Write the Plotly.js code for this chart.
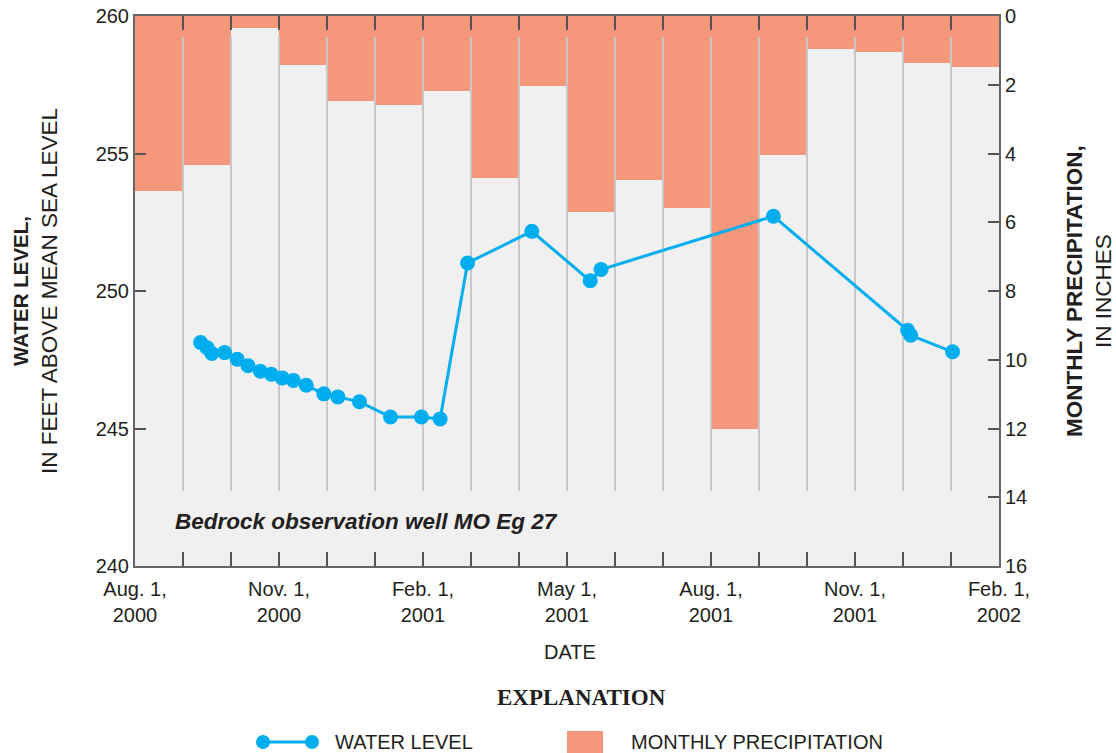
<!DOCTYPE html>
<html>
<head>
<meta charset="utf-8">
<script src="https://cdn.plot.ly/plotly-3.0.1.min.js"></script>
<style>html,body{margin:0;padding:0;background:#fff;}#chart{width:1116px;height:753px;}</style>
</head>
<body>
<div id="chart"></div>
<script>
// ---- data ----
var months = ['Aug 2000','Sep 2000','Oct 2000','Nov 2000','Dec 2000','Jan 2001','Feb 2001','Mar 2001','Apr 2001',
              'May 2001','Jun 2001','Jul 2001','Aug 2001','Sep 2001','Oct 2001','Nov 2001','Dec 2001','Jan 2002'];
var precipInches = [5.08, 4.33, 0.35, 1.43, 2.47, 2.60, 2.19, 4.71, 2.04, 5.71, 4.78, 5.58, 12.02, 4.04, 0.96, 1.04, 1.36, 1.47];

var levelDates = ['2000-09-12','2000-09-16','2000-09-19','2000-09-27','2000-10-05','2000-10-12','2000-10-20','2000-10-27',
                  '2000-11-03','2000-11-10','2000-11-18','2000-11-29','2000-12-08','2000-12-22','2001-01-11','2001-01-31',
                  '2001-02-11','2001-02-27','2001-04-09','2001-05-16','2001-05-23','2001-09-10','2001-12-04','2001-12-06',
                  '2002-01-02'];
var levelFeet = [248.13, 247.94, 247.73, 247.76, 247.52, 247.28, 247.08, 246.97, 246.84, 246.75, 246.57, 246.26,
                 246.15, 245.97, 245.42, 245.42, 245.35, 251.02, 252.17, 250.37, 250.78, 252.72, 248.57, 248.39, 247.79];

var tickLabels = ['Aug. 1,<br>2000','Nov. 1,<br>2000','Feb. 1,<br>2001','May 1,<br>2001','Aug. 1,<br>2001','Nov. 1,<br>2001','Feb. 1,<br>2002'];

// ---- helpers ----
// equal-width month axis: position = months since Aug 1, 2000 (fraction within month)
function monthPos(s){
  var p = s.split('-').map(Number);
  var y = p[0], m = p[1], d = p[2];
  var dim = new Date(y, m, 0).getDate();
  return (y - 2000) * 12 + (m - 8) + (d - 1) / dim;
}
var W = 1116, H = 753, ML = 135, MR = 117, MT = 16, MB = 187;
var PW = W - ML - MR, PH = H - MT - MB;
function px(x){ return (x - ML) / PW; }
function py(y){ return 1 - (y - MT) / PH; }

var levelX = levelDates.map(monthPos);
var barX = months.map(function(_, i){ return i + 0.5; });

// month boundary grid lines (partial height) on precip axis
var gx = [], gy = [];
var yTop = 16 * (21 / PH), yBot = 16 * (475 / PH);
for (var k = 1; k < months.length; k++){ gx.push(k, k, null); gy.push(yTop, yBot, null); }

var tickVals = [], tickText = [];
for (var i = 0; i <= months.length; i++){
  tickVals.push(i);
  tickText.push(i % 3 === 0 ? tickLabels[i / 3] : '');
}

var txt = '#231f20', axc = '#666666';
var FONT = 'Liberation Sans, Arial, Helvetica, sans-serif';

var traces = [
  {type:'bar', x: barX, y: precipInches, width: 1, xaxis:'x', yaxis:'y',
   marker:{color:'#f5977a', line:{width:0}}, hoverinfo:'y', showlegend:false},
  {type:'scatter', mode:'lines', x: gx, y: gy, xaxis:'x', yaxis:'y',
   line:{color:'#c8c8c8', width:2}, hoverinfo:'skip', showlegend:false},
  {type:'scatter', mode:'lines+markers', x: levelX, y: levelFeet, xaxis:'x', yaxis:'y2',
   line:{color:'#00aeef', width:3}, marker:{color:'#00aeef', size:15}, showlegend:false}
];

var shapes = [
  {type:'line', xref:'paper', yref:'paper', x0:px(263), x1:px(312), y0:py(742), y1:py(742), line:{color:'#00aeef', width:3}},
  {type:'circle', xref:'paper', yref:'paper', x0:px(256), x1:px(270), y0:py(735), y1:py(749), fillcolor:'#00aeef', line:{width:0}},
  {type:'circle', xref:'paper', yref:'paper', x0:px(305), x1:px(319), y0:py(735), y1:py(749), fillcolor:'#00aeef', line:{width:0}},
  {type:'rect', xref:'paper', yref:'paper', x0:px(567), x1:px(603), y0:py(731), y1:py(755), fillcolor:'#f5977a', line:{width:0}}
];

var annotations = [
  {xref:'paper', yref:'paper', x:px(35), y:0.5, textangle:-90, showarrow:false, xanchor:'center', yanchor:'middle',
   text:'<b><span style="font-size:20.5px">WATER LEVEL,</span></b><br>IN FEET ABOVE MEAN SEA LEVEL', font:{family:FONT, size:22.5, color:txt}},
  {xref:'paper', yref:'paper', x:px(1089), y:0.5, textangle:-90, showarrow:false, xanchor:'center', yanchor:'middle',
   text:'<b>MONTHLY PRECIPITATION,</b><br>IN INCHES', font:{family:FONT, size:22.5, color:txt}},
  {xref:'paper', yref:'paper', x:px(173), y:py(521), showarrow:false, xanchor:'left', yanchor:'middle',
   text:'<b><i>Bedrock observation well MO Eg 27</i></b>', font:{family:FONT, size:22.5, color:txt}},
  {xref:'paper', yref:'paper', x:px(570), y:py(652), showarrow:false, xanchor:'center', yanchor:'middle',
   text:'DATE', font:{family:FONT, size:20, color:txt}},
  {xref:'paper', yref:'paper', x:px(581), y:py(697), showarrow:false, xanchor:'center', yanchor:'middle',
   text:'<b>EXPLANATION</b>', font:{family:'Liberation Serif, Times New Roman, serif', size:23, color:txt}},
  {xref:'paper', yref:'paper', x:px(333), y:py(742), showarrow:false, xanchor:'left', yanchor:'middle',
   text:'WATER LEVEL', font:{family:FONT, size:20, color:txt}},
  {xref:'paper', yref:'paper', x:px(629), y:py(742), showarrow:false, xanchor:'left', yanchor:'middle',
   text:'MONTHLY PRECIPITATION', font:{family:FONT, size:20, color:txt}}
];

var layout = {
  width: W, height: H,
  margin:{l:ML, r:MR, t:MT, b:MB, pad:0},
  paper_bgcolor:'#ffffff', plot_bgcolor:'#f0f0f0',
  font:{family:FONT, size:20, color:txt},
  showlegend:false,
  bargap:0,
  xaxis:{range:[0, months.length], tickmode:'array', tickvals:tickVals, ticktext:tickText,
         ticks:'inside', ticklen:14, tickwidth:2, tickcolor:'#555', showline:true, linecolor:axc, linewidth:2,
         mirror:'ticks', showgrid:false, zeroline:false, ticklabelstandoff:4,
         tickfont:{family:FONT, size:20, color:txt}, fixedrange:true},
  yaxis:{range:[16, 0], side:'right', tickvals:[0,2,4,6,8,10,12,14,16], ticks:'inside', ticklen:11, tickwidth:2,
         tickcolor:'#555', showline:true, linecolor:axc, linewidth:2, showgrid:false, zeroline:false,
         tickfont:{family:FONT, size:20, color:txt}, fixedrange:true},
  yaxis2:{range:[240, 260], overlaying:'y', side:'left', tickvals:[240,245,250,255,260], ticks:'inside', ticklen:11,
          tickwidth:2, tickcolor:'#555', showline:true, linecolor:axc, linewidth:2, showgrid:false, zeroline:false,
          tickfont:{family:FONT, size:20, color:txt}, fixedrange:true},
  shapes: shapes,
  annotations: annotations
};

Plotly.newPlot('chart', traces, layout, {displayModeBar:false, staticPlot:true});
</script>
</body>
</html>
